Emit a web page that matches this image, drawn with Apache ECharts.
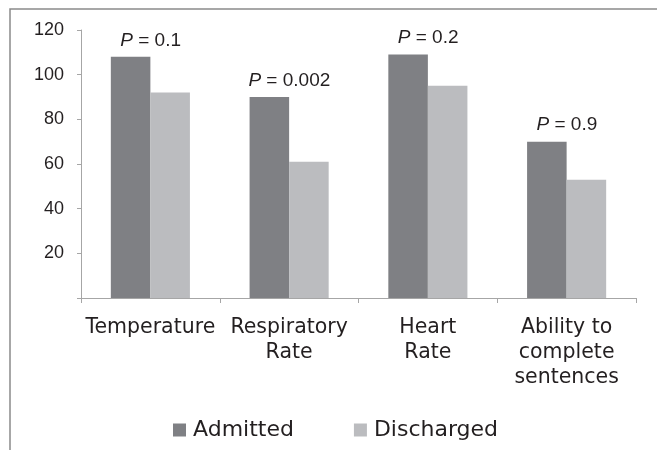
<!DOCTYPE html>
<html>
<head>
<meta charset="utf-8">
<script src="https://cdn.jsdelivr.net/npm/echarts@6/dist/echarts.min.js"></script>
<style>
	html, body { margin: 0; padding: 0; background: #fff; }
	#barChart { width: 657px; height: 450px; }
</style>
</head>
<body>
<div id="barChart"></div>
<script>
// 数据
var categories = ['Temperature', 'Respiratory\nRate', 'Heart\nRate', 'Ability to\ncomplete\nsentences'];
var admitted = [108, 90, 109, 70];
var discharged = [92, 61, 95, 53];
var pValues = ['0.1', '0.002', '0.2', '0.9'];
var yTicks = [0, 20, 40, 60, 80, 100, 120];

var numFont = '"Liberation Sans", Arial, sans-serif';
var textFont = '"DejaVu Sans", sans-serif';

function barChart() {
	var myChart = echarts.init(document.getElementById('barChart'));
	var option = {
		animation: false,
		color: ['#7f8084', '#bbbcbf'],
		grid: {
			left: 81,
			top: 30,
			right: 21,
			bottom: 152
		},
		graphic: [
			{
				type: 'polyline',
				shape: { points: [[10, 450], [10, 9], [657, 9]] },
				style: { stroke: '#8a8a8a', lineWidth: 1.5, fill: null }
			}
		],
		legend: {
			left: 168,
			top: 414,
			icon: 'rect',
			itemWidth: 13,
			itemHeight: 13,
			itemGap: 60,
			textStyle: {
				fontFamily: textFont,
				fontSize: 22,
				color: '#231f20',
				padding: [0, 0, 0, 2]
			},
			data: ['Admitted', 'Discharged']
		},
		xAxis: {
			type: 'category',
			data: categories,
			axisLine: { lineStyle: { color: '#a6a6a6', width: 1 } },
			axisTick: { show: true, length: 5, lineStyle: { color: '#a6a6a6' } },
			axisLabel: {
				interval: 0,
				margin: 17,
				fontFamily: textFont,
				fontSize: 20.5,
				lineHeight: 25,
				color: '#231f20',
				align: 'center'
			}
		},
		yAxis: {
			type: 'value',
			min: yTicks[0],
			max: yTicks[yTicks.length - 1],
			interval: 20,
			splitLine: { show: false },
			axisLine: { show: true, lineStyle: { color: '#a6a6a6', width: 1 } },
			axisTick: { show: true, length: 4, lineStyle: { color: '#a6a6a6' } },
			axisLabel: {
				margin: 17,
				fontFamily: numFont,
				fontSize: 18,
				color: '#231f20',
				formatter: function (v) {
					return v === 0 ? '' : String(v);
				}
			}
		},
		series: [
			{
				name: 'Admitted',
				type: 'bar',
				barGap: '0%',
				barCategoryGap: '43%',
				data: admitted,
				label: {
					show: true,
					position: 'top',
					distance: 7,
					offset: [20, 0],
					fontFamily: numFont,
					fontSize: 19,
					color: '#231f20',
					formatter: function (p) {
						return '{i|P} = ' + pValues[p.dataIndex];
					},
					rich: {
						i: {
							fontFamily: numFont,
							fontSize: 19,
							fontStyle: 'italic',
							color: '#231f20'
						}
					}
				}
			},
			{
				name: 'Discharged',
				type: 'bar',
				data: discharged
			}
		]
	};
	myChart.setOption(option);
}

barChart();
</script>
</body>
</html>
